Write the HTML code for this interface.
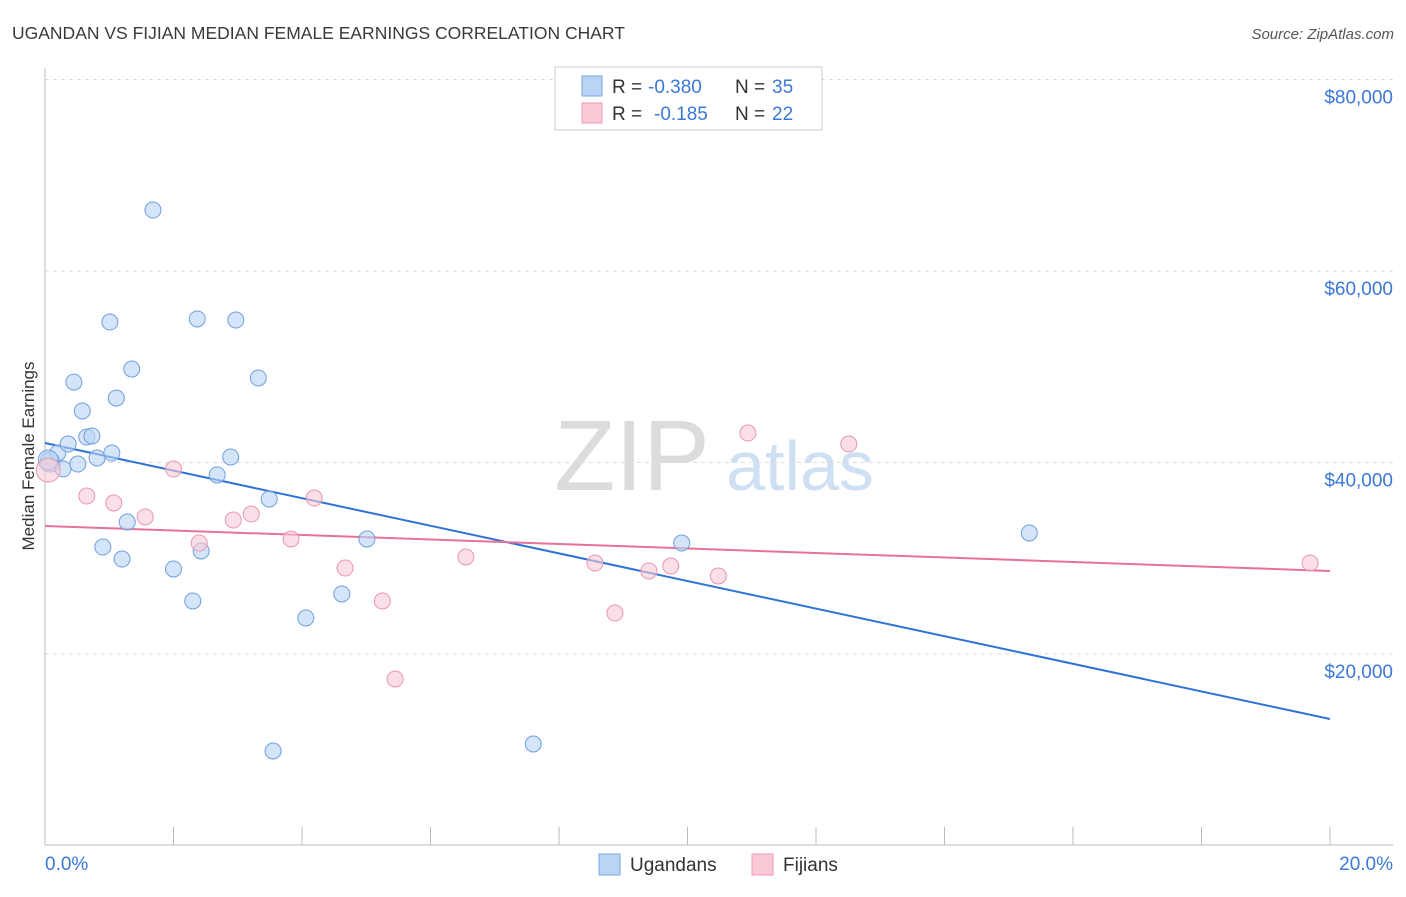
<!DOCTYPE html>
<html><head><meta charset="utf-8"><style>
body{margin:0;background:#fff;font-family:"Liberation Sans",sans-serif;}
svg text{font-family:"Liberation Sans",sans-serif;}
</style></head><body>
<svg id="chart" width="1406" height="892" xmlns="http://www.w3.org/2000/svg">
<text x="12" y="39" font-size="17.5" fill="#3a3a3a">UGANDAN VS FIJIAN MEDIAN FEMALE EARNINGS CORRELATION CHART</text>
<text x="1394" y="39" font-size="15" fill="#555" text-anchor="end" font-style="italic">Source: ZipAtlas.com</text>
<g>
<text x="632" y="490" font-size="100" fill="#dcdcdc" font-family="Liberation Serif" text-anchor="middle">ZIP</text>
<text x="800" y="490" font-size="70" fill="#cfe0f5" text-anchor="middle">atlas</text>
</g>
<g id="grid"></g>
<g id="axes"></g>
<g id="lines"></g>
<g id="points"></g>
<text transform="translate(34,456) rotate(-90)" font-size="17" fill="#333" text-anchor="middle">Median Female Earnings</text>
<g>
<rect x="555" y="67" width="267" height="63" fill="#fff" stroke="#ccc"/>
<rect x="582" y="76" width="20" height="20" fill="#b9d4f5" stroke="#7aa7e0"/>
<text x="612" y="93" font-size="19" fill="#333">R =</text>
<text x="648" y="93" font-size="19" fill="#3b78d8">-0.380</text>
<text x="735" y="93" font-size="19" fill="#333">N =</text>
<text x="772" y="93" font-size="19" fill="#3b78d8">35</text>
<rect x="582" y="103" width="20" height="20" fill="#f9c9d6" stroke="#ec9ab2"/>
<text x="612" y="120" font-size="19" fill="#333">R =</text>
<text x="654" y="120" font-size="19" fill="#3b78d8">-0.185</text>
<text x="735" y="120" font-size="19" fill="#333">N =</text>
<text x="772" y="120" font-size="19" fill="#3b78d8">22</text>
</g>
<g>
<rect x="599" y="854" width="21" height="21" fill="#b9d4f5" stroke="#7aa7e0"/>
<text x="630" y="871" font-size="19" fill="#333">Ugandans</text>
<rect x="752" y="854" width="21" height="21" fill="#f9c9d6" stroke="#ec9ab2"/>
<text x="783" y="871" font-size="19" fill="#333">Fijians</text>
</g>
</svg>
<script>
const yTicks=[20000,40000,60000,80000];
const yTickLabels=["$20,000","$40,000","$60,000","$80,000"];
const xTicks=[0,2,4,6,8,10,12,14,16,18,20];
const xEndLabels=["0.0%","20.0%"];
const ugX=[0.08,0.20,0.28,0.36,0.45,0.51,0.58,0.65,0.73,0.81,0.90,1.01,1.04,1.11,1.20,1.28,1.35,1.68,2.0,2.30,2.37,2.43,2.68,2.89,2.97,3.32,3.49,3.55,4.06,4.62,5.01,7.60,9.91,15.32,0.05];
const ugY=[40050,41000,39330,41930,48400,39840,45380,42660,42770,40470,31170,54670,40990,46730,29920,33780,49760,66370,28880,25540,54990,30760,38700,40580,54880,48830,36190,9870,23760,26270,32010,10600,31590,32640,40260];
const fjX=[0.05,0.65,1.07,1.56,2.0,2.40,2.93,3.21,3.83,4.19,4.67,5.25,5.45,6.55,8.56,8.87,9.40,9.74,10.48,10.94,12.51,19.69];
const fjY=[39210,36500,35770,34310,39320,31590,33990,34620,32010,36290,28980,25540,17390,30130,29500,24280,28670,29190,28150,43080,41930,29500];
const ugTrend=[42040,13210];
const fjTrend=[33370,28670];
const NS="http://www.w3.org/2000/svg";
const X=v=>45+v*64.25, Y=v=>845.5-v/104.44;
function mk(parent,tag,attrs){const e=document.createElementNS(NS,tag);for(const k in attrs)e.setAttribute(k,attrs[k]);document.getElementById(parent).appendChild(e);return e;}
yTicks.forEach((t,i)=>{
 const l=mk('grid','line',{x1:45,x2:1393,y1:Y(t),y2:Y(t),stroke:'#ddd','stroke-dasharray':'4,4'});
 
 
 const tx=mk('grid','text',{x:1393,y:Y(t)+24,'font-size':19,fill:'#3b78d8','text-anchor':'end'});
 tx.textContent=yTickLabels[i];
 
 
});
const xa=mk('axes','line',{x1:45,x2:1393,y1:845,y2:845,stroke:'#bbb'});


const ya=mk('axes','line',{x1:45,x2:45,y1:68,y2:845,stroke:'#bbb'});


xTicks.forEach(t=>{
 const l=mk('axes','line',{x1:X(t),x2:X(t),y1:827,y2:845,stroke:'#bbb'});
 
 
});
const xl0=mk('axes','text',{x:45,y:870,'font-size':19,fill:'#3b78d8'});xl0.textContent=xEndLabels[0];


const xl1=mk('axes','text',{x:1393,y:870,'font-size':19,fill:'#3b78d8','text-anchor':'end'});xl1.textContent=xEndLabels[1];


ugX.forEach((x,i)=>{
 const c=mk('points','circle',{cx:X(x),cy:Y(ugY[i]),r:(i===0||i===34)?10:8,fill:'rgba(185,212,245,0.6)',stroke:'#6f9fdc','stroke-width':1});
 
 
});
fjX.forEach((x,i)=>{
 const c=mk('points','circle',{cx:X(x),cy:Y(fjY[i]),r:i===0?12:8,fill:'rgba(249,201,214,0.6)',stroke:'#e995ae','stroke-width':1});
 
 
});
const ul=mk('lines','line',{x1:X(0),x2:X(20),y1:Y(ugTrend[0]),y2:Y(ugTrend[1]),stroke:'#2f72d8','stroke-width':2});


const fl=mk('lines','line',{x1:X(0),x2:X(20),y1:Y(fjTrend[0]),y2:Y(fjTrend[1]),stroke:'#e8709a','stroke-width':2});


</script>
</body></html>
